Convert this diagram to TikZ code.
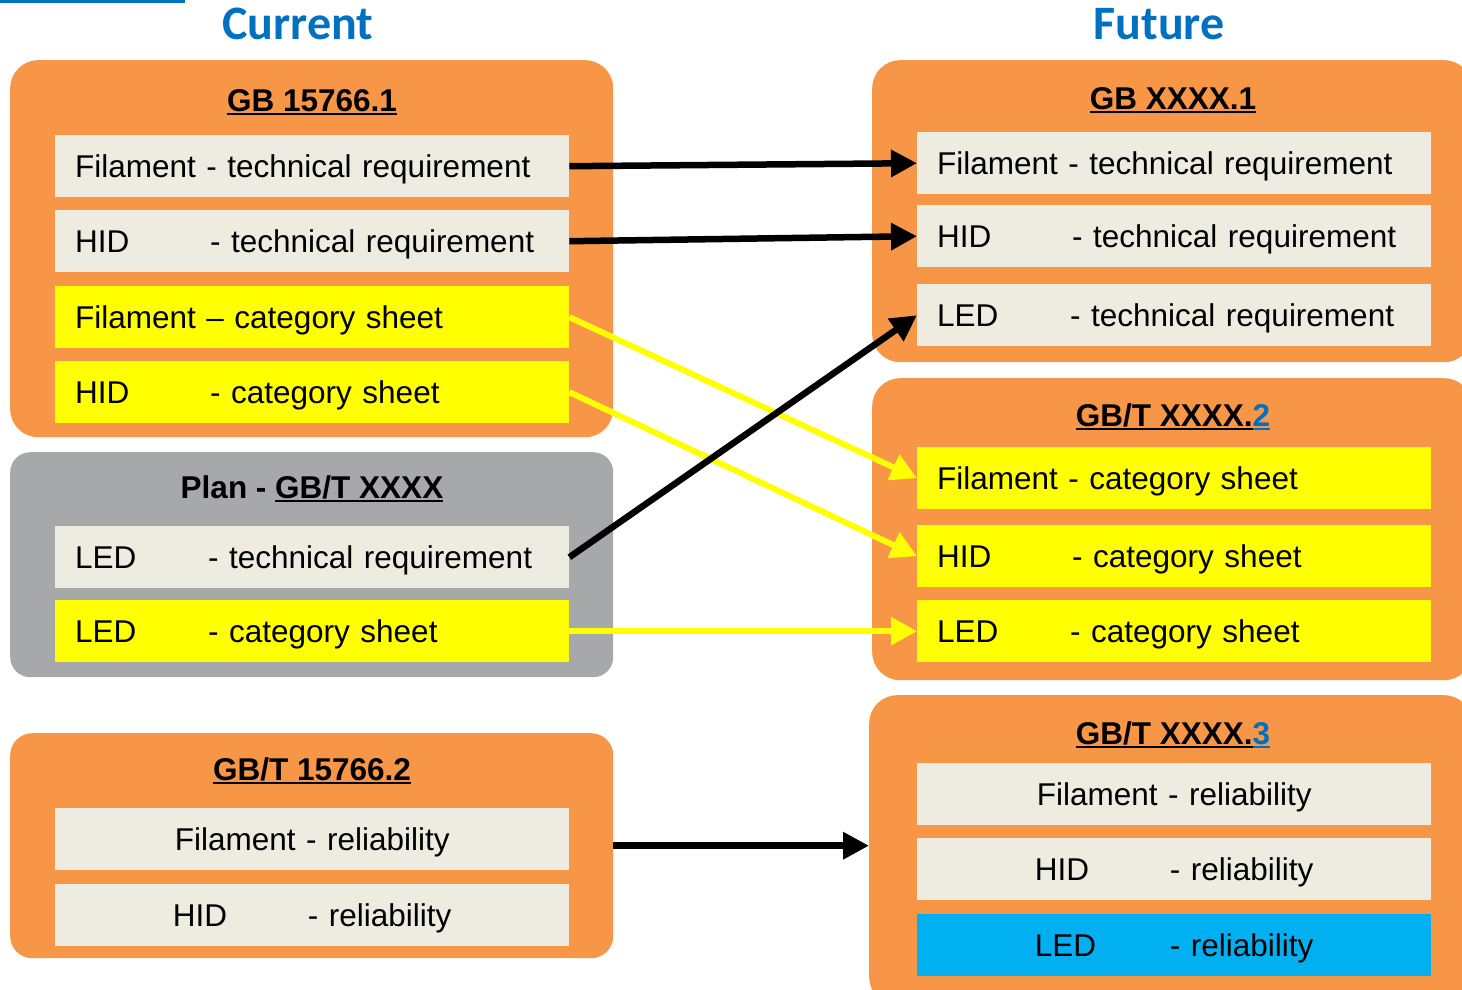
\documentclass[tikz,border=0pt]{standalone}
\usepackage{fontspec}
\setmainfont{Liberation Sans}
\newfontfamily\headfont{Carlito}
\usetikzlibrary{arrows.meta}

\definecolor{boxorange}{HTML}{F79646}
\definecolor{boxgray}{HTML}{A7A8AA}
\definecolor{rowlight}{HTML}{EEECE1}
\definecolor{rowyellow}{HTML}{FFFF00}
\definecolor{rowblue}{HTML}{00B0F0}
\definecolor{headblue}{HTML}{0070C0}

% underline with a rule of our own
\newcommand{\ulin}[1]{\setbox0\hbox{#1}\rlap{\rule[-4pt]{\wd0}{2pt}}\box0}
\newcommand{\lamp}[2]{\makebox[#1][l]{#2}}

\tikzset{
    obox/.style={fill=boxorange, rounded corners=28pt, anchor=north west, inner sep=0pt},
    gbox/.style={fill=boxgray, rounded corners=20pt, anchor=north west, inner sep=0pt},
    rowbox/.style={minimum width=514pt, minimum height=62pt, text width=474pt,
        text height=23pt, text depth=0pt,
        inner xsep=20pt, inner ysep=0pt, align=left, anchor=north west,
        font=\fontsize{31.5}{36}\selectfont},
    light/.style={rowbox, fill=rowlight},
    yellowrow/.style={rowbox, fill=rowyellow},
    bluerow/.style={rowbox, fill=rowblue},
    boxtitle/.style={anchor=base, inner sep=0pt, font=\bfseries\fontsize{31.5}{36}\selectfont},
    head/.style={anchor=base, inner sep=0pt, text=headblue, font=\headfont\bfseries\fontsize{48}{56}\selectfont},
    blackarrow/.style={line width=6.5pt, -{Triangle[length=26pt,width=26pt]}},
    yellowarrow/.style={draw=rowyellow, line width=6pt, -{Triangle[length=26pt,width=27pt]}}
}

\begin{document}
\begin{tikzpicture}[x=1pt, y=-1pt]
    \clip (0,0) rectangle (1462,990);

    \draw[headblue, line width=3pt] (0,1.5) -- (185,1.5);
    \node[head] (cur) at (298,40) {Current};
    \node[head] (fut) at (1159,40) {Future};

    % current standards
    \node[obox, minimum width=603pt, minimum height=377pt] (lgb1) at (10,60) {};
    \node[gbox, minimum width=603pt, minimum height=225pt] (lplan) at (10,452) {};
    \node[obox, rounded corners=22pt, minimum width=603pt, minimum height=225pt] (lgb2) at (10,733) {};

    \node[boxtitle] (tl1) at (312,111) {\ulin{GB 15766.1}};
    \node[light] (lf1) at (55,135) {Filament - technical requirement};
    \node[light] (lh1) at (55,210) {\lamp{135pt}{HID}- technical requirement};
    \node[yellowrow] (lf2) at (55,286) {Filament – category sheet};
    \node[yellowrow] (lh2) at (55,361) {\lamp{135pt}{HID}- category sheet};

    \node[boxtitle] (tl2) at (312,498) {Plan - \ulin{GB/T XXXX}};
    \node[light] (ll1) at (55,526) {\lamp{133pt}{LED}- technical requirement};
    \node[yellowrow] (ll2) at (55,600) {\lamp{133pt}{LED}- category sheet};

    \node[boxtitle] (tl3) at (312,780) {\ulin{GB/T 15766.2}};
    \node[light, align=center] (lfr) at (55,808) {Filament - reliability};
    \node[light, align=center] (lhr) at (55,884) {\lamp{135pt}{HID}- reliability};

    % future standards
    \node[obox, minimum width=600pt, minimum height=302pt] (rgb1) at (872,60) {};
    \node[obox, minimum width=600pt, minimum height=302pt] (rgb2) at (872,378) {};
    \node[obox, minimum width=603pt, minimum height=310pt] (rgb3) at (869,695) {};

    \node[boxtitle] (tr1) at (1173,109) {\ulin{GB XXXX.1}};
    \node[light] (rf1) at (917,132) {Filament - technical requirement};
    \node[light] (rh1) at (917,205) {\lamp{135pt}{HID}- technical requirement};
    \node[light] (rl1) at (917,284) {\lamp{133pt}{LED}- technical requirement};

    \node[boxtitle] (tr2) at (1173,426) {\ulin{GB/T XXXX.}{\color{headblue}\ulin{2}}};
    \node[yellowrow] (rf2) at (917,447) {Filament - category sheet};
    \node[yellowrow] (rh2) at (917,525) {\lamp{135pt}{HID}- category sheet};
    \node[yellowrow] (rl2) at (917,600) {\lamp{133pt}{LED}- category sheet};

    \node[boxtitle] (tr3) at (1173,744) {\ulin{GB/T XXXX.}{\color{headblue}\ulin{3}}};
    \node[light, align=center] (rfr) at (917,763) {Filament - reliability};
    \node[light, align=center] (rhr) at (917,838) {\lamp{135pt}{HID}- reliability};
    \node[bluerow, align=center] (rlr) at (917,914) {\lamp{135pt}{LED}- reliability};

    % mapping
    \draw[yellowarrow] (lf2.east) -- (rf2.west);
    \draw[yellowarrow] (lh2.east) -- (rh2.west);
    \draw[yellowarrow] (ll2.east) -- (rl2.west);
    \draw[blackarrow] (lf1.east) -- (rf1.west);
    \draw[blackarrow] (lh1.east) -- (rh1.west);
    \draw[blackarrow] (ll1.east) -- (rl1.west);
    \draw[blackarrow] (lgb2.east) -- (lgb2.east -| rgb3.west);
\end{tikzpicture}
\end{document}
